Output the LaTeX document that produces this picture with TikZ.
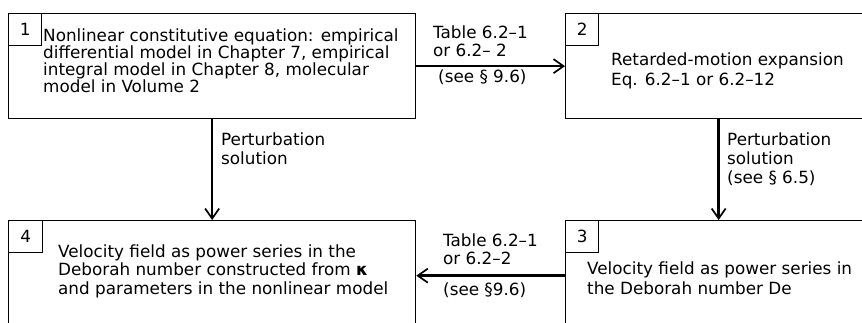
\documentclass[tikz,border=0pt]{standalone}
\usepackage{fontspec}
\setmainfont{DejaVu Sans}
\usetikzlibrary{arrows.meta}
\begin{document}
\begin{tikzpicture}[x=1pt,y=-1pt,
  frame/.style={draw, line width=1.3pt, inner sep=0pt, anchor=north west},
  numbox/.style={draw, line width=1.3pt, inner sep=0pt, anchor=north west,
    minimum width=33pt, minimum height=32pt, font=\fontsize{16.8}{18}\selectfont},
  body/.style={anchor=base west, inner sep=0pt, align=left,
    font=\fontsize{16.8}{17}\selectfont},
  lab/.style={anchor=base west, inner sep=0pt, align=left,
    font=\fontsize{16.8}{19}\selectfont},
  flow/.style={line width=2.6pt,
    -{Straight Barb[length=10pt,width=14pt,line width=1.7pt]}},
]
\useasboundingbox (0,0) rectangle (862,322);
\clip (0,0) rectangle (862,322);

% outer boxes
\node[frame, minimum width=407pt, minimum height=105pt] (b1) at (8,13) {};
\node[frame, minimum width=306pt, minimum height=105pt] (b2) at (565,13) {};
\node[frame, minimum width=306pt, minimum height=110pt] (b3) at (565,220) {};
\node[frame, minimum width=407pt, minimum height=110pt] (b4) at (8,220) {};

% numbered corner tabs
\node[numbox] (n1) at (b1.north west) {1};
\node[numbox] (n2) at (b2.north west) {2};
\node[numbox] (n3) at (b3.north west) {3};
\node[numbox, minimum width=34pt] (n4) at (b4.north west) {4};

% box contents (anchored at the baseline of the last line)
\node[body] (t1) at (43,92) {Nonlinear constitutive equation: empirical\\
  differential model in Chapter 7, empirical\\
  integral model in Chapter 8, molecular\\
  model in Volume 2};
\node[body, font=\fontsize{16.8}{20}\selectfont] (t2) at (611,85)
  {Retarded-motion expansion\\Eq. 6.2–1 or 6.2–12};
\node[body, font=\fontsize{16.8}{20}\selectfont] (t3) at (587,294)
  {Velocity field as power series in\\the Deborah number De};
\node[body, font=\fontsize{16.8}{18.5}\selectfont] (t4) at (58,294)
  {Velocity field as power series in the\\
  Deborah number constructed from {\bfseries κ}\\
  and parameters in the nonlinear model};

% connectors
\draw[flow] (b1.east) -- (b2.west);
\draw[flow] (b1.south) -- (b4.north);
\draw[flow] (b2.south) -- (b3.north);
\draw[flow] (b3.west) -- (b4.east);

% connector labels
\node[lab, font=\fontsize{16.8}{18}\selectfont] (l12a) at (433,56) {Table 6.2–1\\or 6.2– 2};
\node[lab] (l12b) at (438,82) {(see § 9.6)};
\node[lab, font=\fontsize{16.8}{18}\selectfont] (l34a) at (443,264) {Table 6.2–1\\or 6.2–2};
\node[lab] (l34b) at (443,295) {(see §9.6)};
\node[lab] (l14) at (221,164) {Perturbation\\solution};
\node[lab] (l23) at (727,183) {Perturbation\\solution\\(see § 6.5)};
\end{tikzpicture}
\end{document}
